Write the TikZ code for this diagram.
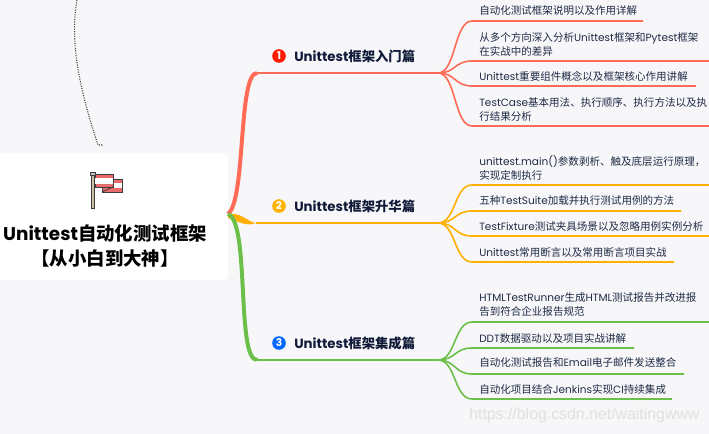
\documentclass[tikz,border=0pt]{standalone}
\usepackage{fontspec}
\setmainfont{Noto Sans CJK SC}
\newfontfamily\en{Poppins}
\newfontfamily\wm{Liberation Sans}
\usetikzlibrary{positioning}
\definecolor{bgcol}{HTML}{F7F7FA}
\definecolor{redcol}{HTML}{FF6B57}
\definecolor{orangecol}{HTML}{FFB000}
\definecolor{greencol}{HTML}{6CC04A}
\definecolor{inkcol}{HTML}{1F2A44}
\definecolor{headcol}{HTML}{101A38}
\definecolor{flagcol}{HTML}{E96B6B}
\definecolor{flagline}{HTML}{3D3D3D}
\tikzset{
>=stealth,
rootbox/.style={fill=white,rounded corners=3pt,minimum width=186pt,minimum height=95pt,inner sep=0pt},
title/.style={align=center,font=\fontsize{13.8}{18.75}\selectfont\bfseries,text=black,inner sep=0pt},
sect/.style={anchor=west,font=\fontsize{10}{12}\selectfont\bfseries,text=headcol,inner sep=0pt},
badge/.style={circle,inner sep=0pt,minimum size=10.2pt,text=white,font=\fontsize{8}{8}\selectfont\bfseries},
leaf/.style={anchor=west,align=left,font=\fontsize{7.9}{10.5}\selectfont,text=inkcol,inner sep=0pt},
twig/.style={line width=1.2pt},
limb/.style={line width=3pt},
stem/.style={line width=1.5pt}
}

\begin{document}
\begin{tikzpicture}[x=0.75pt,y=-0.75pt]
\useasboundingbox (0,0) rectangle (709,434);
\fill[bgcol] (0,0) rectangle (709,434);

% centre
\node[rootbox] (root) at (104,216.5) {};
\node[title]   (title) at (105,245.5) {{\en Unittest}自动化测试框架\\【从小白到大神】};
\coordinate (start) at (228,214);

% dotted tail above the centre
\coordinate (tailtop) at (77,0);
\coordinate (tailend) at (98,145);
\draw[flagline,densely dotted,line width=0.8pt] (tailtop) .. controls (70,40) and (78,85) .. (tailend) -- +(5,0);

% flag
\filldraw[fill=black!30!brown!40!white,draw=flagline,line width=0.5pt] (91.5,174) rectangle (94.5,208);
\filldraw[fill=gray!50,draw=flagline,line width=0.5pt] (90.5,172) rectangle (95.5,175);
\filldraw[fill=flagcol,draw=flagline,line width=0.6pt] (102,187) -- (102,192) -- (122,192) -- (122,179) -- (113,179) -- (113,187) -- cycle;
\fill[white] (113,183) rectangle (121.5,188);
\filldraw[fill=flagcol,draw=flagline,line width=0.6pt] (95,174) rectangle (113,187);
\fill[white] (95.4,178) rectangle (112.6,184);
\draw[flagline,line width=0.6pt] (102,192) -- (113,187);

% first branch
\node[badge,fill=red!80!orange] (b1) at (279,56) {\en 1};
\node[sect] (s1) at (294,56) {{\en Unittest}框架入门篇};
\coordinate (hub1) at (438,73);
\coordinate (bend1) at (257,73);
\draw[redcol,stem] (bend1) -- (hub1);
\draw[redcol,limb] (start) .. controls (246,200) and (238,73) .. (bend1);

% second branch
\node[badge,fill=orangecol] (b2) at (279,206) {\en 2};
\node[sect] (s2) at (294,206) {{\en Unittest}框架升华篇};
\coordinate (hub2) at (438,223);
\coordinate (bend2) at (256,223);
\draw[orangecol,stem] (bend2) -- (hub2);
\fill[orangecol] (start) .. controls (240,213) and (244,218) .. (252,222) -- (bend2) -- (250,224.5) .. controls (241,224) and (236,221) .. (228,218) -- cycle;

% third branch
\node[badge,fill=blue!60!cyan] (b3) at (279,343) {\en 3};
\node[sect] (s3) at (294,343) {{\en Unittest}框架集成篇};
\coordinate (hub3) at (438,360);
\coordinate (bend3) at (257,360);
\draw[greencol,stem] (bend3) -- (hub3);
\draw[greencol,limb] (start) .. controls (250,222) and (236,360) .. (bend3);

% leaves
\node[leaf] (a1) at (479,11) {自动化测试框架说明以及作用详解};
\node[leaf] (a2) at (479,44) {从多个方向深入分析{\en Unittest}框架和{\en Pytest}框架\\在实战中的差异};
\node[leaf] (a3) at (479,76) {{\en Unittest}重要组件概念以及框架核心作用讲解};
\node[leaf] (a4) at (479,109) {{\en TestCase}基本用法、执行顺序、执行方法以及执\\行结果分析};

\node[leaf] (c1) at (479,168.5) {{\en unittest.main()}参数剥析、触及底层运行原理，\\实现定制执行};
\node[leaf] (c2) at (479,201) {五种{\en TestSuite}加载并执行测试用例的方法};
\node[leaf] (c3) at (479,226) {{\en TestFixture}测试夹具场景以及忽略用例实例分析};
\node[leaf] (c4) at (479,252) {{\en Unittest}常用断言以及常用断言项目实战};

\node[leaf] (d1) at (479,305) {{\en HTMLTestRunner}生成{\en HTML}测试报告并改进报\\告到符合企业报告规范};
\node[leaf] (d2) at (479,338) {{\en DDT}数据驱动以及项目实战讲解};
\node[leaf] (d3) at (479,363) {自动化测试报告和{\en Email}电子邮件发送整合};
\node[leaf] (d4) at (479,389) {自动化项目结合{\en Jenkins}实现{\en CI}持续集成};

% twigs
\foreach \y/\e in {21/643,61/709,86/696,126/709}
  \draw[redcol,twig] (hub1) .. controls +(18,0) and (454,\y) .. (472,\y) -- (\e,\y);
\foreach \y/\e in {185/709,211/681,236/709,262/674}
  \draw[orangecol,twig] (hub2) .. controls +(18,0) and (454,\y) .. (472,\y) -- (\e,\y);
\foreach \y/\e in {322/709,348/634,374/684,399/672}
  \draw[greencol,twig] (hub3) .. controls +(18,0) and (454,\y) .. (472,\y) -- (\e,\y);

% watermark
\node[font=\wm\fontsize{11.9}{12}\selectfont,text=black!12,anchor=west,inner sep=0pt] (mark) at (469,415) {https://blog.csdn.net/waitingwww};
\end{tikzpicture}
\end{document}
